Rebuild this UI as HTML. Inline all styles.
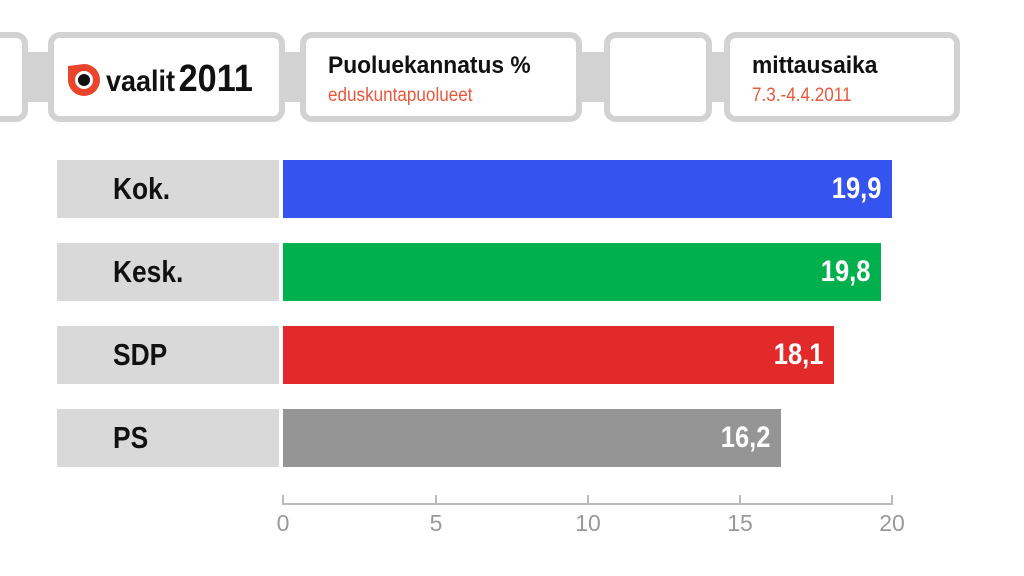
<!DOCTYPE html>
<html><head><meta charset="utf-8"><style>
body{margin:0;width:1024px;height:576px;background:#fff;position:relative;overflow:hidden;font-family:"Liberation Sans",sans-serif}
div{position:absolute;box-sizing:border-box}
.box{border:6px solid #d2d2d2;border-radius:12px;background:#fff;top:32px;height:90px}
.con{background:#d2d2d2;top:52px;height:50px;border-radius:6px}
.lab{left:57px;width:222px;height:58px;background:#d9d9d9;font-weight:bold;font-size:31px;line-height:58px;padding-left:56px;color:#111}
.lab span{display:inline-block;transform:scaleX(0.85);transform-origin:left}
.bar{left:283px;height:58px;color:#fff;font-weight:bold;font-size:30px;line-height:58px;text-align:right;padding-right:11px}
.bar span{display:inline-block;transform:scaleX(0.85);transform-origin:right}
.t{font-size:24px;font-weight:bold;color:#111;left:22px;top:14px;white-space:nowrap;transform:scaleX(0.95);transform-origin:left}
.s{font-size:19px;color:#e8583c;left:22px;top:47px;white-space:nowrap;transform:scaleX(0.9);transform-origin:left}
.tk{top:495px;width:2px;height:10px;background:#bbb}
.tl{top:510px;font-size:23px;color:#999;width:40px;text-align:center}
</style></head><body>
<div class="con" style="left:20px;width:40px"></div>
<div class="con" style="left:275px;width:35px"></div>
<div class="con" style="left:575px;width:35px"></div>
<div class="con" style="left:705px;width:25px"></div>
<div class="box" style="left:-20px;width:48px"></div>
<div class="box" style="left:48px;width:237px">
<svg style="position:absolute;left:10px;top:22px" width="40" height="40" viewBox="0 0 40 40"><path d="M4 6 L20 4 A16 16 0 1 1 4 20 Z" fill="#e8452a"/><circle cx="20" cy="20" r="9" fill="#fff"/><circle cx="20" cy="20" r="6" fill="#111"/></svg>
<div style="left:52px;top:20px;font-size:30px;font-weight:bold;color:#111;white-space:nowrap;transform:scaleX(0.9);transform-origin:left">vaalit<span style="font-size:38px;margin-left:4px">2011</span></div>
</div>
<div class="box" style="left:300px;width:282px"><div class="t">Puoluekannatus %</div><div class="s">eduskuntapuolueet</div></div>
<div class="box" style="left:604px;width:108px"></div>
<div class="box" style="left:724px;width:236px"><div class="t">mittausaika</div><div class="s">7.3.-4.4.2011</div></div>

<div class="lab" style="top:160px"><span>Kok.</span></div>
<div class="bar" style="top:160px;width:609px;background:#3553ee"><span>19,9</span></div>
<div class="lab" style="top:243px"><span>Kesk.</span></div>
<div class="bar" style="top:243px;width:598px;background:#00b04c"><span>19,8</span></div>
<div class="lab" style="top:326px"><span>SDP</span></div>
<div class="bar" style="top:326px;width:551px;background:#e32a2a"><span>18,1</span></div>
<div class="lab" style="top:409px"><span>PS</span></div>
<div class="bar" style="top:409px;width:498px;background:#959595"><span>16,2</span></div>

<div style="left:282px;top:503px;width:611px;height:2px;background:#bbb"></div>
<div class="tk" style="left:282px"></div><div class="tk" style="left:435px"></div><div class="tk" style="left:587px"></div><div class="tk" style="left:739px"></div><div class="tk" style="left:891px"></div>
<div class="tl" style="left:263px">0</div><div class="tl" style="left:416px">5</div><div class="tl" style="left:568px">10</div><div class="tl" style="left:720px">15</div><div class="tl" style="left:872px">20</div>
</body></html>
